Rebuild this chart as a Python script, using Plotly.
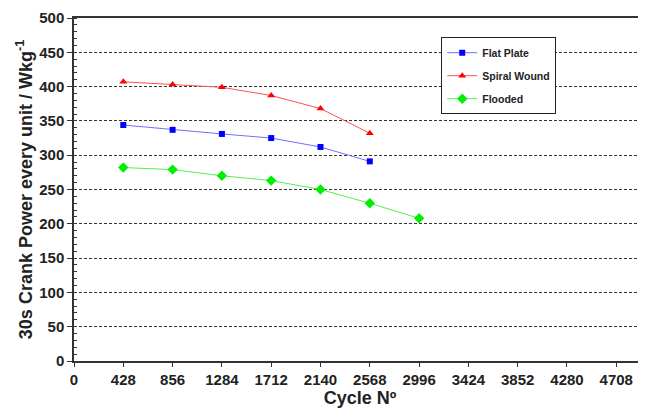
import plotly.graph_objects as go

cycles = [428, 856, 1284, 1712, 2140, 2568, 2996]
flat_plate = [344, 337, 331, 325, 312, 291]
spiral_wound = [407, 403, 399, 387, 368, 332]
flooded = [282, 279, 270, 263, 250, 230, 208]
x_ticks = [0, 428, 856, 1284, 1712, 2140, 2568, 2996, 3424, 3852, 4280, 4708]
y_ticks = [0, 50, 100, 150, 200, 250, 300, 350, 400, 450, 500]

fig = go.Figure()
fig.add_trace(go.Scatter(x=cycles[:len(flat_plate)], y=flat_plate, name="Flat Plate",
                         mode="lines+markers", legendgroup="a",
                         line=dict(color="#6f6fff", width=1),
                         marker=dict(symbol="square", color="#0000ff", size=6)))
fig.add_trace(go.Scatter(x=cycles[:len(spiral_wound)], y=spiral_wound, name="Spiral Wound",
                         mode="lines+markers", legendgroup="b",
                         line=dict(color="#ff5050", width=1),
                         marker=dict(symbol="triangle-up", color="#ff0000", size=7)))
fig.add_trace(go.Scatter(x=cycles, y=flooded, name="Flooded",
                         mode="lines+markers", legendgroup="c",
                         line=dict(color="#55ee55", width=1),
                         marker=dict(symbol="diamond", color="#00ee00", size=8)))

fig.update_layout(
    width=638, height=403,
    margin=dict(l=66, r=0, t=10, b=50),
    paper_bgcolor="white", plot_bgcolor="white",
    font=dict(family="Liberation Sans, Arial", color="#222"),
    legend=dict(x=0.642, y=0.944, xanchor="left", yanchor="top",
                bordercolor="#222", borderwidth=1, bgcolor="white",
                font=dict(size=10.5, family="Liberation Sans, Arial", weight="bold"),
                traceorder="grouped", tracegroupgap=4,
                itemwidth=30, entrywidth=120, entrywidthmode="pixels"),
    xaxis=dict(range=[0, 4966], tickvals=x_ticks, ticktext=[str(v) for v in x_ticks],
               automargin=False,
               showgrid=False, zeroline=False,
               showline=True, linecolor="#333", linewidth=1.5, mirror=True,
               ticks="outside", ticklen=4, tickcolor="#333",
               tickfont=dict(size=15, weight="bold"),
               title=dict(text="Cycle Nº", font=dict(size=18, weight="bold"), standoff=0)),
    yaxis=dict(range=[0, 500], tickvals=y_ticks,
               automargin=False,
               showgrid=True, gridcolor="#333", griddash="3px,2px", gridwidth=1,
               zeroline=False,
               showline=True, linecolor="#333", linewidth=1.5, mirror=False,
               ticks="outside", ticklen=5, tickcolor="#333",
               minor=dict(dtick=10, ticks="inside", ticklen=3, tickcolor="#333", showgrid=False),
               tickfont=dict(size=15, weight="bold"),
               title=dict(text="30s Crank Power every unit / Wkg<sup>-1</sup>",
                          font=dict(size=18, weight="bold"), standoff=2)),
)
fig.write_html("out.html")
